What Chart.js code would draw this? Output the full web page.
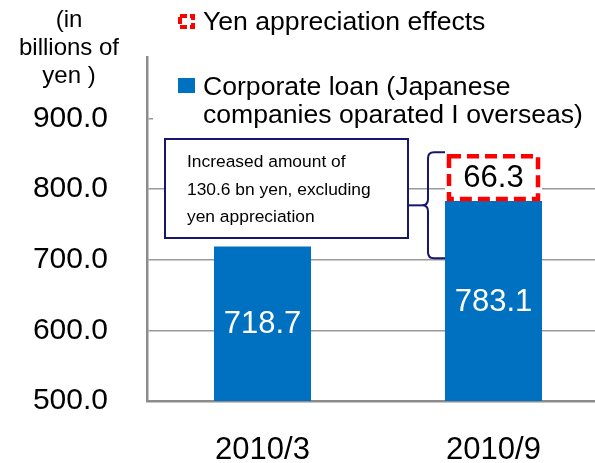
<!DOCTYPE html>
<html>
<head>
<meta charset="utf-8">
<script src="https://cdn.jsdelivr.net/npm/chart.js@4/dist/chart.umd.min.js"></script>
<style>
  html, body { margin: 0; padding: 0; background: #fff; overflow: hidden; }
  #wrap { width: 595px; height: 463px; overflow: hidden; }
</style>
</head>
<body>
<div id="wrap"><canvas id="chartYen" width="609" height="463"></canvas></div>
<script>
  // values
  var categories = ['2010/3', '2010/9'];
  var corporateLoan = [718.7, 783.1];
  var yenEffect = [null, 66.3];
  var yMin = 500, yMax = 987, yStep = 100;

  var legendLabels = [
    ['Yen appreciation effects'],
    ['Corporate loan (Japanese', 'companies oparated I overseas)']
  ];
  var axisTitle = ['(in', 'billions of', 'yen )'];
  var noteLines = ['Increased amount of', '130.6 bn yen, excluding', 'yen appreciation'];
  var braceRange = [852, 702];

  var FONT = "'Liberation Sans', Arial, sans-serif";
  var BLUE = '#0070C0';
  var RED = '#FF0000';
  var NAVY = '#16166e';

  // bars start below the axis minimum, so clip the base to the plot bottom
  function barBox(chart, el) {
    var p = el.getProps(['x', 'y', 'base', 'width'], true);
    var bottom = Math.min(p.base, chart.chartArea.bottom);
    return { x: p.x, top: p.y, bottom: bottom, width: p.width };
  }

  function drawValue(chart, el, value, color) {
    var b = barBox(chart, el);
    chart.ctx.fillStyle = color;
    chart.ctx.fillText(value.toFixed(1), b.x, (b.top + b.bottom) / 2 + 1);
  }

  var overlay = {
    id: 'overlay',
    afterDraw: function (chart) {
      var ctx = chart.ctx;
      var ys = chart.scales.y;
      ctx.save();

      // dashed border of the yen appreciation segment
      var meta0 = chart.getDatasetMeta(0);
      var meta1 = chart.getDatasetMeta(1);
      for (var i = 0; i < yenEffect.length; i++) {
        if (yenEffect[i] == null) continue;
        var b = barBox(chart, meta1.data[i]);
        var left = b.x - b.width / 2;
        ctx.strokeStyle = RED;
        ctx.lineWidth = 4.5;
        ctx.setLineDash([12, 6]);
        ctx.strokeRect(left + 4, b.top + 2, b.width - 8, b.bottom - b.top - 4);
        ctx.setLineDash([]);
      }

      // value labels
      ctx.font = '31px ' + FONT;
      ctx.textAlign = 'center';
      ctx.textBaseline = 'middle';
      for (var j = 0; j < corporateLoan.length; j++) {
        drawValue(chart, meta0.data[j], corporateLoan[j], '#ffffff');
        if (yenEffect[j] != null) drawValue(chart, meta1.data[j], yenEffect[j], '#000000');
      }

      // legend area (white, sits over the plot top)
      ctx.fillStyle = '#ffffff';
      ctx.fillRect(153, 0, chart.width - 153, 135);

      ctx.font = '26.6px ' + FONT;
      ctx.textAlign = 'left';
      ctx.textBaseline = 'alphabetic';
      // yen appreciation marker
      ctx.strokeStyle = RED;
      ctx.lineWidth = 4;
      ctx.setLineDash([7, 3]);
      ctx.strokeRect(180, 16, 13, 11);
      ctx.setLineDash([]);
      ctx.fillStyle = '#000';
      ctx.fillText(legendLabels[0][0], 203, 30);
      // corporate loan marker
      ctx.fillStyle = BLUE;
      ctx.fillRect(178, 78, 17, 15);
      ctx.fillStyle = '#000';
      ctx.fillText(legendLabels[1][0], 203, 95);
      ctx.fillText(legendLabels[1][1], 203, 123);

      // y axis unit title
      ctx.font = '24px ' + FONT;
      ctx.textAlign = 'center';
      axisTitle.forEach(function (t, k) {
        ctx.fillText(t, 69, 27 + k * 28);
      });

      // note box
      ctx.fillStyle = '#fff';
      ctx.fillRect(165, 139, 243, 99);
      ctx.strokeStyle = NAVY;
      ctx.lineWidth = 2;
      ctx.strokeRect(165, 139, 243, 99);
      ctx.fillStyle = '#000';
      ctx.font = '17.4px ' + FONT;
      ctx.textAlign = 'left';
      noteLines.forEach(function (t, k) {
        ctx.fillText(t, 187, 167 + k * 27.5);
      });

      // brace next to the 2010/9 bar
      var bar = barBox(chart, meta0.data[1]);
      var bl = bar.x - bar.width / 2;
      var bx = bl - 17;
      var top = ys.getPixelForValue(braceRange[0]);
      var bot = ys.getPixelForValue(braceRange[1]);
      var mid = (top + bot) / 2;
      ctx.strokeStyle = NAVY;
      ctx.lineWidth = 2;
      ctx.beginPath();
      ctx.moveTo(bl, top);
      ctx.lineTo(bx + 6, top);
      ctx.quadraticCurveTo(bx, top, bx, top + 6);
      ctx.lineTo(bx, mid - 6);
      ctx.quadraticCurveTo(bx, mid, bx - 6, mid);
      ctx.quadraticCurveTo(bx, mid, bx, mid + 6);
      ctx.lineTo(bx, bot - 6);
      ctx.quadraticCurveTo(bx, bot, bx + 6, bot);
      ctx.lineTo(bl, bot);
      ctx.stroke();
      ctx.beginPath();
      ctx.moveTo(408, mid);
      ctx.lineTo(bx - 6, mid);
      ctx.stroke();

      ctx.restore();
    }
  };

  var ctx = document.getElementById('chartYen');
  new Chart(ctx, {
    type: 'bar',
    data: {
      labels: categories,
      datasets: [
        {
          label: 'Corporate loan',
          data: corporateLoan,
          backgroundColor: BLUE,
          borderWidth: 0
        },
        {
          label: 'Yen appreciation effects',
          data: yenEffect,
          backgroundColor: '#ffffff',
          borderWidth: 0
        }
      ]
    },
    options: {
      responsive: false,
      animation: false,
      devicePixelRatio: 1,
      layout: { padding: { top: 57, left: 0, right: 0, bottom: 0 } },
      datasets: { bar: { barPercentage: 0.42, categoryPercentage: 1.0 } },
      scales: {
        x: {
          stacked: true,
          grid: { display: false, drawTicks: false },
          border: { color: '#8c8c8c', width: 2.5 },
          ticks: { color: '#000', padding: 31, font: { family: FONT, size: 31 } },
          afterFit: function (s) { s.height = 62; }
        },
        y: {
          stacked: true,
          min: yMin,
          max: yMax,
          grid: { color: '#9a9a9a', lineWidth: 1.5, drawTicks: false },
          border: { color: '#8c8c8c', width: 2.5 },
          ticks: {
            stepSize: yStep,
            includeBounds: false,
            color: '#000',
            padding: 39,
            font: { family: FONT, size: 30 },
            callback: function (v) { return v.toFixed(1); }
          },
          afterFit: function (s) { s.width = 147; }
        }
      },
      plugins: {
        legend: { display: false },
        tooltip: { enabled: false }
      }
    },
    plugins: [overlay]
  });
</script>
</body>
</html>
